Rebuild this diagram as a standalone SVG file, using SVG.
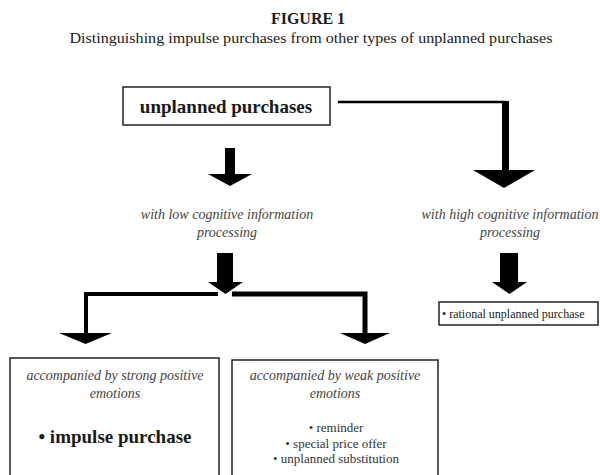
<svg xmlns="http://www.w3.org/2000/svg" width="600" height="475" viewBox="0 0 600 475">
<style>
text{font-family:"Liberation Serif","Times New Roman",serif;fill:#1a1a1a}
.it{font-style:italic;font-size:14px;fill:#444;text-anchor:middle}
.box{fill:#fff;stroke:#222;stroke-width:1.5}
.bar{fill:none;stroke:#000;stroke-linejoin:miter}
.head{fill:#000}
.sm{font-size:13px;fill:#333;text-anchor:middle}
</style>
<rect width="600" height="475" fill="#fff"/>
<text x="308" y="24" font-size="16" font-weight="bold" text-anchor="middle">FIGURE 1</text>
<text x="311" y="43" font-size="15" text-anchor="middle" textLength="483" lengthAdjust="spacingAndGlyphs">Distinguishing impulse purchases from other types of unplanned purchases</text>

<g id="connectors">
  <!-- unplanned -> low -->
  <rect x="225" y="148" width="10" height="27" fill="#000"/>
  <polygon class="head" points="208,174 252,174 230,186"/>
  <!-- unplanned -> high -->
  <polyline class="bar" points="338,102 505.5,102" stroke-width="2.5"/>
  <polyline class="bar" points="505.5,101 505.5,171" stroke-width="7"/>
  <polygon class="head" points="473,170 535,170 504,188"/>
  <!-- low -> split -->
  <rect x="217" y="253" width="16" height="30" fill="#000"/>
  <polygon class="head" points="208,282 243,282 225.5,294"/>
  <polyline class="bar" points="218,294 86,294 86,334" stroke-width="4"/>
  <polyline class="bar" points="232,294 365,294 365,334" stroke-width="5"/>
  <polygon class="head" points="59,333 112,333 85.5,344"/>
  <polygon class="head" points="340,333 390,333 365,344"/>
  <!-- high -> rational -->
  <rect x="500" y="253" width="18" height="30" fill="#000"/>
  <polygon class="head" points="492,282 527,282 509.5,294"/>
</g>

<g id="node-unplanned">
  <rect class="box" x="123" y="87" width="207" height="38"/>
  <text x="226" y="113" font-size="19" font-weight="bold" text-anchor="middle">unplanned purchases</text>
</g>

<g id="node-low">
  <text class="it" x="227" y="219">with low cognitive information</text>
  <text class="it" x="227" y="237">processing</text>
</g>

<g id="node-high">
  <text class="it" x="510" y="219">with high cognitive information</text>
  <text class="it" x="510" y="237">processing</text>
</g>

<g id="node-rational">
  <rect class="box" x="439" y="302" width="159" height="23"/>
  <text x="442" y="318" font-size="12" fill="#333">• rational unplanned purchase</text>
</g>

<g id="node-strong">
  <rect class="box" x="10" y="358" width="209" height="125"/>
  <text class="it" x="115" y="380">accompanied by strong positive</text>
  <text class="it" x="115" y="398">emotions</text>
  <text x="115" y="443" font-size="19" font-weight="bold" text-anchor="middle">• impulse purchase</text>
</g>

<g id="node-weak">
  <rect class="box" x="232" y="360" width="206" height="125"/>
  <text class="it" x="335" y="380">accompanied by weak positive</text>
  <text class="it" x="335" y="398">emotions</text>
  <text class="sm" x="336" y="432">• reminder</text>
  <text class="sm" x="336" y="448">• special price offer</text>
  <text class="sm" x="336" y="463">• unplanned substitution</text>
</g>
</svg>
